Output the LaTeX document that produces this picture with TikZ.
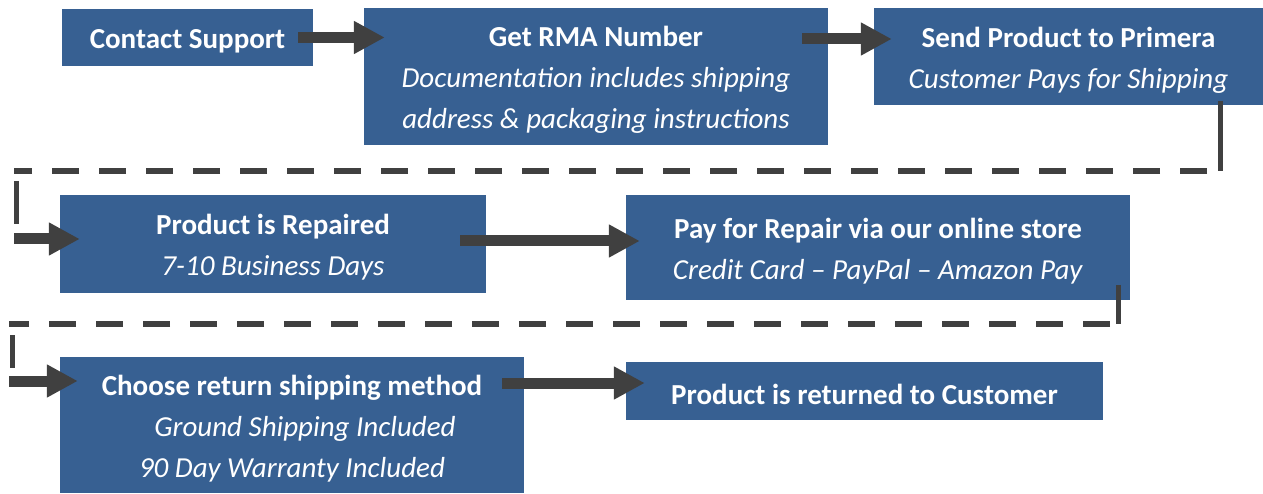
\documentclass[tikz,border=0pt]{standalone}
\usepackage{fontspec}
\setmainfont{Carlito}
\usetikzlibrary{arrows.meta}
\definecolor{boxblue}{RGB}{55,96,146}
\definecolor{arrowgray}{RGB}{64,64,64}
\newcommand{\topgap}{\rule{0pt}{27pt}}
\tikzset{
    stepnode/.style = {rectangle, fill=boxblue, text=white, align=center, inner sep=0pt, font=\fontsize{29}{41}\selectfont},
    edgen/.style = {-{Triangle[length=31pt,width=31pt]}, line width=11pt, draw=arrowgray},
    edged/.style = {line width=6pt, draw=arrowgray, dash pattern=on 27pt off 20pt}, % dashed return
    edges/.style = {line width=5pt, draw=arrowgray}, % solid bend
}

\begin{document}
\begin{tikzpicture}[x=1pt,y=-1pt]
%
\node[stepnode, minimum width=251pt, minimum height=57pt] at (187.5,37.5) (contact) {\topgap\textbf{Contact Support}};
\node[stepnode, minimum width=464pt, minimum height=137pt] at (596,76.5) (rma) {\topgap\textbf{Get RMA Number}\\ \textit{Documentation includes shipping}\\ \textit{address \& packaging instructions}};
\node[stepnode, minimum width=389pt, minimum height=97pt] at (1068.5,56.5) (ship) {\topgap\textbf{Send Product to Primera}\\ \textit{Customer Pays for Shipping}};
\node[stepnode, minimum width=426pt, minimum height=98pt] at (273,244) (rep) {\topgap\textbf{Product is Repaired}\\ \textit{7-10 Business Days}};
\node[stepnode, minimum width=504pt, minimum height=105pt] at (878,247.5) (pay) {\topgap\textbf{Pay for Repair via our online store}\\ \textit{Credit Card -- PayPal -- Amazon Pay}};
\node[stepnode, minimum width=464pt, minimum height=136pt] at (292,425) (ret) {\topgap\textbf{Choose return shipping method}\\ \hspace*{26pt}\textit{Ground Shipping Included}\\ \textit{90 Day Warranty Included}};
\node[stepnode, minimum width=477pt, minimum height=58pt] at (864.5,391) (home) {\topgap\textbf{Product is returned to Customer}};
%
\draw[edgen, shorten <=-15pt, shorten >=-21pt] (contact.east) -- (contact.east -| rma.west);
\draw[edgen, shorten <=-26pt, shorten >=-18pt] ([yshift=37.5pt]rma.east) -- ([yshift=17.5pt]ship.west);
\draw[edgen, shorten <=-26pt, shorten >=-14pt] ([yshift=3pt]rep.east) -- ([yshift=3pt]rep.east -| pay.west);
\draw[edgen, shorten <=-22pt, shorten >=-19pt] ([yshift=42pt]ret.east) -- ([yshift=42pt]ret.east -| home.west);
%
\coordinate (ua) at (1220,101);
\coordinate (ub) at (1220,171);
\coordinate (uc) at (14,171);
\coordinate (ud) at (16,181);
\coordinate (ue) at (16,224);
\coordinate (uf) at (14,239);
\draw[edges] (ua) -- (ub);
\draw[edged, shorten <=13pt] (ub) -- (uc);
\draw[edges] (ud) -- (ue);
\draw[edgen, shorten >=-20pt] (uf) -- (uf -| rep.west);
%
\coordinate (la) at (1118,285);
\coordinate (lb) at (1118,324);
\coordinate (lc) at (9,324);
\coordinate (ld) at (12,335);
\coordinate (le) at (12,368);
\coordinate (lf) at (9,381);
\draw[edges] (la) -- (lb);
\draw[edged, shorten <=8pt] (lb) -- (lc);
\draw[edges] (ld) -- (le);
\draw[edgen, shorten >=-18pt] (lf) -- (lf -| ret.west);

\path[use as bounding box] (0,0) rectangle (1263,494);

\end{tikzpicture}
\end{document}
